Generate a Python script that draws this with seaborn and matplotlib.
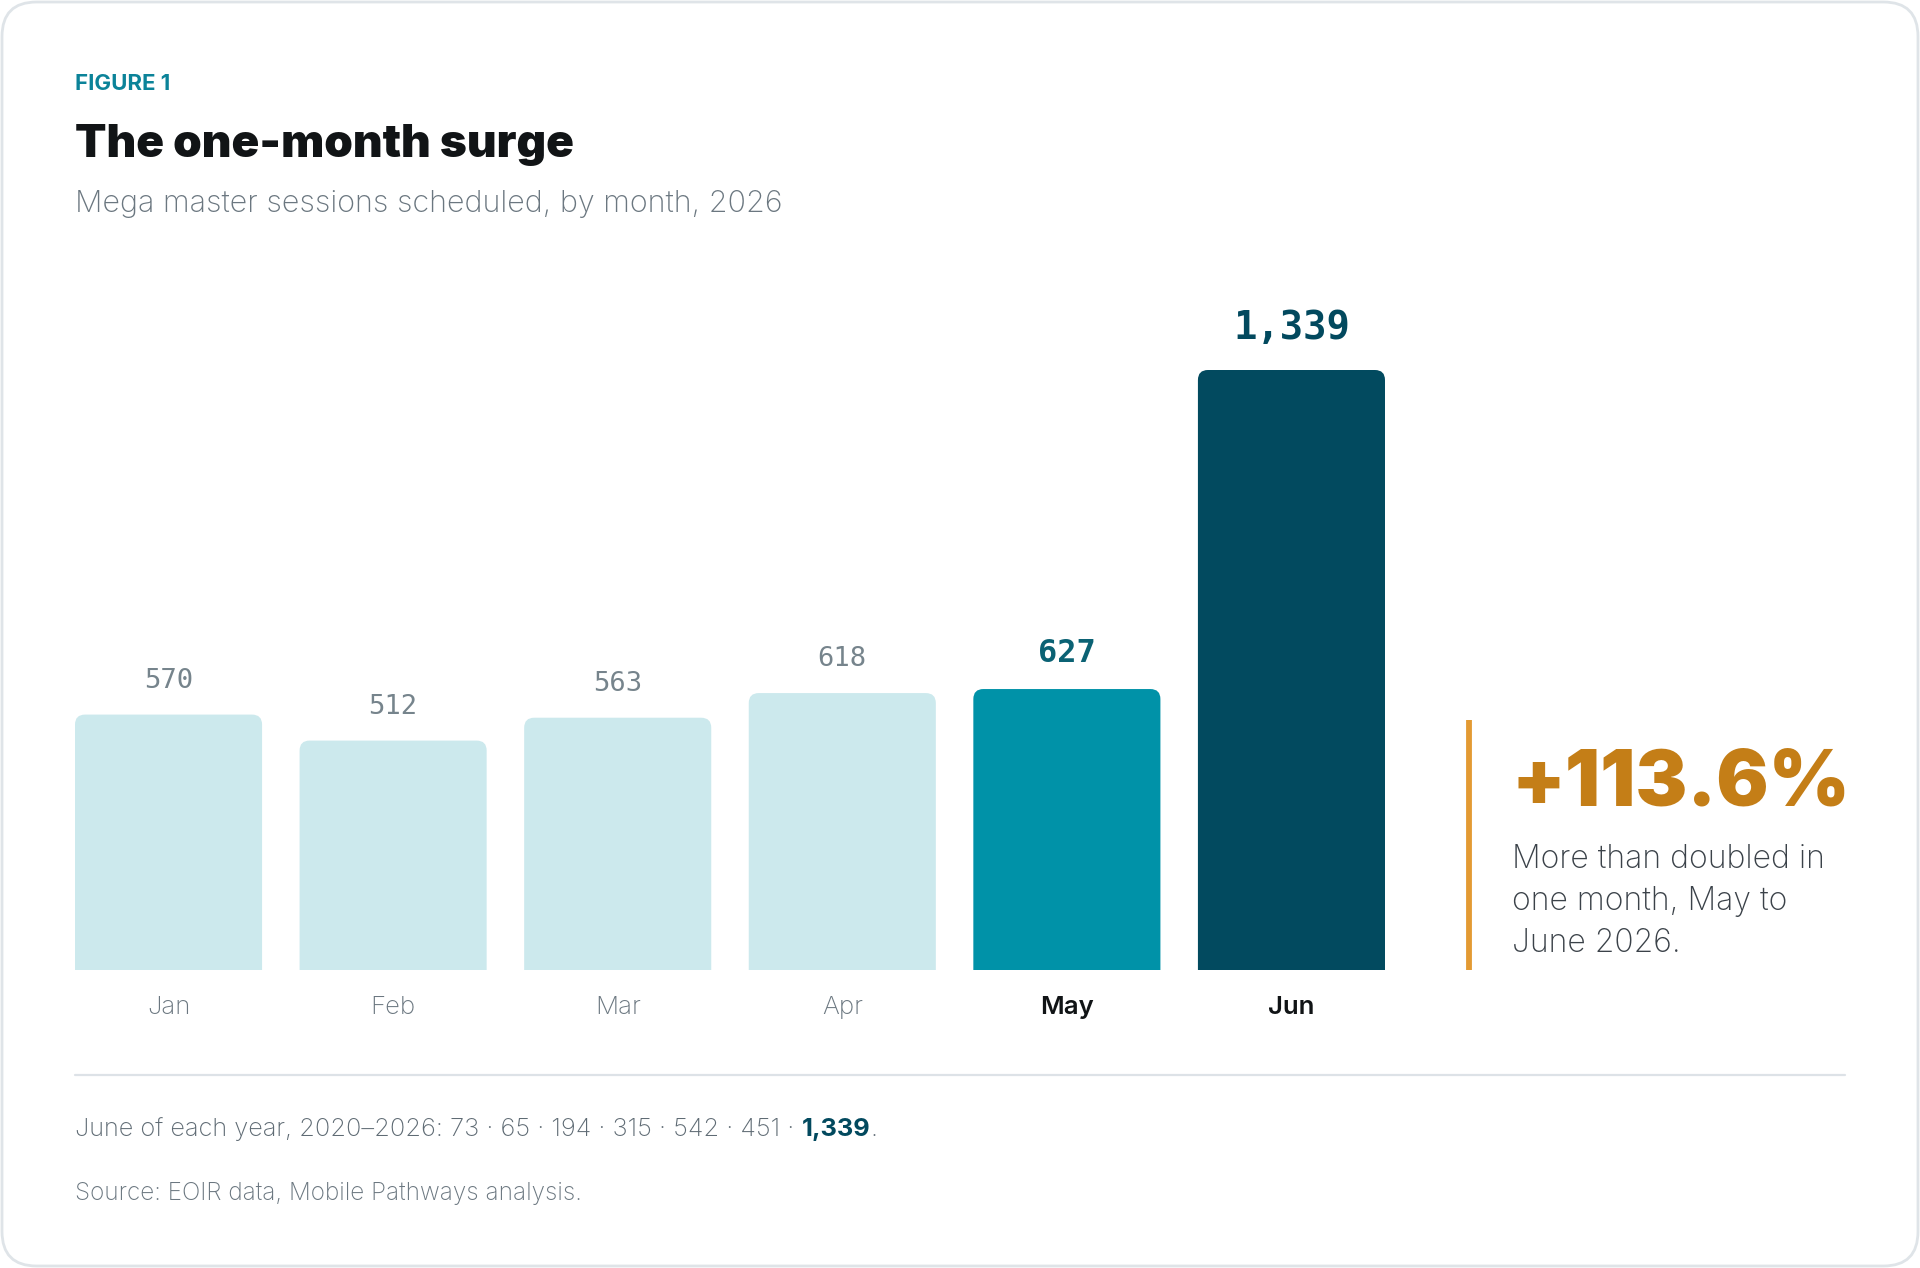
import matplotlib
matplotlib.use("Agg")
import matplotlib.pyplot as plt
from matplotlib.patches import FancyBboxPatch
from matplotlib.lines import Line2D
import seaborn as sns
import pandas as pd

months = ["Jan", "Feb", "Mar", "Apr", "May", "Jun"]
sessions = [570, 512, 563, 618, 627, 1339]
june_years = [2020, 2021, 2022, 2023, 2024, 2025, 2026]
june_values = [73, 65, 194, 315, 542, 451, 1339]
note_lines = ["More than doubled in", "one month, May to", "June 2026."]

W, H = 1920, 1268
FONT = "Inter"

light = "#cce9ed"
may_c = "#0092a8"
jun_c = "#024a5f"
bar_colors = [light, light, light, light, may_c, jun_c]

df = pd.DataFrame({"month": months, "sessions": sessions})

sns.set_theme(style="white")
plt.rcParams["font.family"] = [FONT, "DejaVu Sans"]

fig = plt.figure(figsize=(W / 100, H / 100), dpi=100)
fig.patch.set_facecolor("white")


def px(x, y):
    return x / W, 1 - y / H


# card outline
card = FancyBboxPatch((2 / W, 2 / H), (W - 4) / W, (H - 4) / H,
                      boxstyle="round,pad=0,rounding_size=0.018",
                      mutation_aspect=W / H,
                      transform=fig.transFigure, facecolor="none",
                      edgecolor="#dfe4e8", linewidth=2, zorder=-1)
fig.patches.append(card)

# header
fig.text(*px(75, 90), "FIGURE 1", fontsize=16, fontweight="bold",
         color="#0b8399", va="baseline", ha="left")
fig.text(*px(75, 157), "The one-month surge", fontsize=33, fontweight="black",
         color="#111416", va="baseline", ha="left")
fig.text(*px(75, 212), "Mega master sessions scheduled, by month, 2026",
         fontsize=22, fontweight="light", color="#6b7780",
         va="baseline", ha="left")

# bars
ax_left, ax_right, ax_bottom, ax_top = 75, 1385, 970, 250
ymax = 1339 * (ax_bottom - ax_top) / 600
ax = fig.add_axes([ax_left / W, 1 - ax_bottom / H,
                   (ax_right - ax_left) / W, (ax_bottom - ax_top) / H])
sns.barplot(data=df, x="month", y="sessions", hue="month",
            palette=bar_colors, width=0.833, legend=False, ax=ax,
            saturation=1)
ax.set_xlim(-0.4165, 5.4165)
ax.set_ylim(0, ymax)

xu_per_px = 5.833 / (ax_right - ax_left)
yu_per_px = ymax / (ax_bottom - ax_top)
radius_px = 10
old = list(ax.patches)
for p in old:
    x0, w, h = p.get_x(), p.get_width(), p.get_height()
    fc = p.get_facecolor()
    p.remove()
    ext = 30 * yu_per_px
    rb = FancyBboxPatch((x0, -ext), w, h + ext,
                        boxstyle=f"round,pad=0,rounding_size={radius_px * xu_per_px}",
                        mutation_aspect=yu_per_px / xu_per_px,
                        facecolor=fc, edgecolor="none", linewidth=0)
    ax.add_patch(rb)

# value labels
for i, v in enumerate(sessions):
    if i == 5:
        kw = dict(fontsize=28, fontweight="bold", color="#02495e")
        off = 31
    elif i == 4:
        kw = dict(fontsize=23, fontweight="bold", color="#0b6274")
        off = 27
    else:
        kw = dict(fontsize=19.5, color="#76848c")
        off = 27
    ax.annotate(f"{v:,}", xy=(i, v), xytext=(0, off * 0.72),
                textcoords="offset points", ha="center", va="baseline",
                family=["DejaVu Sans Mono"], **kw)

for s in ax.spines.values():
    s.set_visible(False)
ax.set_xlabel("")
ax.set_ylabel("")
ax.set_yticks([])
ax.tick_params(axis="x", length=0, pad=19)
ax.set_xticks(range(len(months)))
ax.set_xticklabels(months)
for i, lab in enumerate(ax.get_xticklabels()):
    lab.set_fontsize(18.5)
    if i >= 4:
        lab.set_color("#111416")
        lab.set_fontweight("semibold")
    else:
        lab.set_color("#6b7780")
        lab.set_fontweight("light")
ax.set_facecolor("none")

# right callout
fig.lines.append(Line2D([1469 / W, 1469 / W], [1 - 720 / H, 1 - 970 / H],
                        transform=fig.transFigure, color="#e39a33",
                        linewidth=4.2, solid_capstyle="butt"))
pct = (sessions[5] - sessions[4]) / sessions[4] * 100
fig.text(*px(1512, 805), f"+{pct:.1f}%", fontsize=56, fontweight="black",
         color="#c47e17", va="baseline", ha="left")
for k, line in enumerate(note_lines):
    fig.text(*px(1512, 868 + 42 * k), line, fontsize=23, fontweight="light",
             color="#3b4249", va="baseline", ha="left")

# footer
fig.lines.append(Line2D([75 / W, 1845 / W], [1 - 1075 / H, 1 - 1075 / H],
                        transform=fig.transFigure, color="#dde2e7",
                        linewidth=1.6))
head = f"June of each year, {june_years[0]}\u2013{june_years[-1]}: "
head += " \u00b7 ".join(str(v) for v in june_values[:-1]) + " \u00b7 "
t1 = fig.text(*px(75, 1136), head, fontsize=18.3, fontweight="light",
              color="#5f6b74", va="baseline", ha="left")
t2 = fig.text(0, 0, f"{june_values[-1]:,}", fontsize=18.3, fontweight="bold",
              color="#02495e", va="baseline", ha="left")
t3 = fig.text(0, 0, ".", fontsize=18.3, fontweight="light",
              color="#5f6b74", va="baseline", ha="left")

fig.text(*px(75, 1200), "Source: EOIR data, Mobile Pathways analysis.",
         fontsize=17.5, fontweight="light", color="#6b7780",
         va="baseline", ha="left")

fig.canvas.draw()
r = fig.canvas.get_renderer()
bb1 = t1.get_window_extent(r)
base_y = 1 - 1136 / H
t2.set_position((bb1.x1 / W, base_y))
bb2 = t2.get_window_extent(r)
t3.set_position((bb2.x1 / W, base_y))

fig.savefig("out.png", dpi=100, facecolor="white")
